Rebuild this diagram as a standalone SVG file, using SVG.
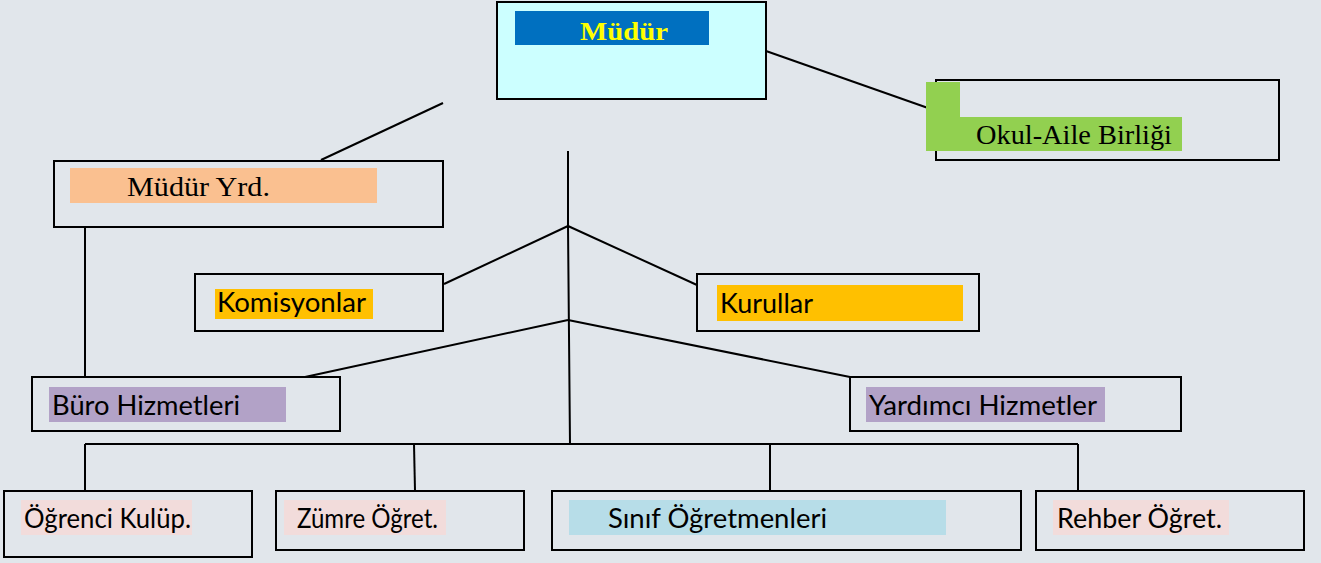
<svg xmlns="http://www.w3.org/2000/svg" width="1321" height="563" viewBox="0 0 1321 563">
<style>
.box{fill:none;stroke:#000;stroke-width:2}
.ln{stroke:#000;stroke-width:2;fill:none}
.serif{font-family:"Liberation Serif","DejaVu Serif",serif;font-size:27px;fill:#000}
.sans{font-family:Lato,"Liberation Sans",sans-serif;font-size:26px;fill:#000}
</style>
<rect x="0" y="0" width="1321" height="563" fill="#e1e6eb"/>
<g id="connectors">
<line class="ln" x1="766" y1="51" x2="928" y2="108"/>
<line class="ln" x1="443" y1="103" x2="321" y2="160"/>
<line class="ln" x1="85" y1="227" x2="85" y2="377"/>
<polyline class="ln" points="568,151 568,226 570,444"/>
<line class="ln" x1="568" y1="226" x2="444" y2="284"/>
<line class="ln" x1="568" y1="226" x2="697" y2="285"/>
<line class="ln" x1="568" y1="320" x2="305" y2="377"/>
<line class="ln" x1="568" y1="320" x2="850" y2="377"/>
<line class="ln" x1="85" y1="444" x2="1078" y2="444"/>
<line class="ln" x1="85" y1="444" x2="85" y2="491"/>
<line class="ln" x1="414" y1="444" x2="415" y2="491"/>
<line class="ln" x1="770" y1="444" x2="770" y2="491"/>
<line class="ln" x1="1078" y1="444" x2="1078" y2="491"/>
</g>
<g id="mudur">
<rect x="497" y="2" width="269" height="97" fill="#ccffff" stroke="#000" stroke-width="2"/>
<rect x="515" y="11" width="194" height="34" fill="#0070c0"/>
<text x="580" y="40" textLength="88" lengthAdjust="spacingAndGlyphs" font-family="Liberation Serif,DejaVu Serif,serif" font-weight="bold" font-size="25" fill="#ffff00">Müdür</text>
</g>
<g id="okul-aile">
<rect class="box" x="936" y="80" width="343" height="80"/>
<path d="M926,82H960V117H1182V151H926Z" fill="#92d050"/>
<text class="serif" x="976" y="144" textLength="196" lengthAdjust="spacingAndGlyphs">Okul-Aile Birliği</text>
</g>
<g id="mudur-yrd">
<rect class="box" x="54" y="161" width="389" height="66"/>
<rect x="70" y="168" width="307" height="35" fill="#fac090"/>
<text class="serif" x="127" y="196" textLength="143" lengthAdjust="spacingAndGlyphs">Müdür Yrd.</text>
</g>
<g id="komisyonlar">
<rect class="box" x="195" y="274" width="248" height="57"/>
<rect x="215" y="289" width="158" height="30" fill="#ffc000"/>
<text class="sans" x="217" y="312" font-size="27" textLength="149" lengthAdjust="spacingAndGlyphs">Komisyonlar</text>
</g>
<g id="kurullar">
<rect class="box" x="697" y="274" width="282" height="57"/>
<rect x="717" y="285" width="246" height="36" fill="#ffc000"/>
<text class="sans" x="720" y="313" font-size="27" textLength="93" lengthAdjust="spacingAndGlyphs">Kurullar</text>
</g>
<g id="buro">
<rect class="box" x="32" y="377" width="308" height="54"/>
<rect x="49" y="387" width="237" height="35" fill="#b2a2c7"/>
<text class="sans" x="52" y="415" textLength="188" lengthAdjust="spacingAndGlyphs">Büro Hizmetleri</text>
</g>
<g id="yardimci">
<rect class="box" x="850" y="377" width="331" height="54"/>
<rect x="866" y="387" width="239" height="35" fill="#b2a2c7"/>
<text class="sans" x="869" y="415" textLength="228" lengthAdjust="spacingAndGlyphs">Yardımcı Hizmetler</text>
</g>
<g id="ogrenci">
<rect class="box" x="4" y="491" width="248" height="66"/>
<rect x="21" y="500" width="171" height="35" fill="#f2dcdb"/>
<text class="sans" x="24" y="528" font-size="25" textLength="167" lengthAdjust="spacingAndGlyphs">Öğrenci Kulüp.</text>
</g>
<g id="zumre">
<rect class="box" x="276" y="491" width="248" height="59"/>
<rect x="284" y="500" width="162" height="35" fill="#f2dcdb"/>
<text class="sans" x="297" y="528" font-size="25" textLength="141" lengthAdjust="spacingAndGlyphs">Zümre Öğret.</text>
</g>
<g id="sinif">
<rect class="box" x="552" y="491" width="469" height="59"/>
<rect x="569" y="500" width="377" height="35" fill="#b7dde8"/>
<text class="sans" x="608" y="528" font-size="25" textLength="219" lengthAdjust="spacingAndGlyphs">Sınıf Öğretmenleri</text>
</g>
<g id="rehber">
<rect class="box" x="1036" y="491" width="268" height="59"/>
<rect x="1053" y="500" width="176" height="35" fill="#f2dcdb"/>
<text class="sans" x="1057" y="528" font-size="25" textLength="165" lengthAdjust="spacingAndGlyphs">Rehber Öğret.</text>
</g>
</svg>
